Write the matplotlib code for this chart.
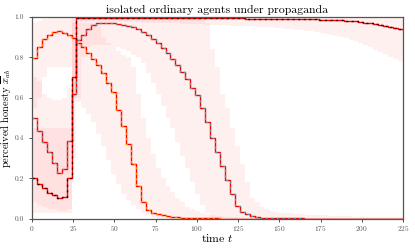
import numpy as np
import matplotlib
matplotlib.use("Agg")
import matplotlib.pyplot as plt

plt.rcParams['font.family'] = ['cmr10', 'DejaVu Serif']
plt.rcParams['mathtext.fontset'] = 'cm'
plt.rcParams['axes.unicode_minus'] = False
plt.rcParams['axes.formatter.use_mathtext'] = True

t = np.arange(0, 226, 3)

series_a = [0.2, 0.172, 0.15, 0.129, 0.115, 0.10, 0.105, 0.2, 0.7, 0.993,
            0.993, 0.993, 0.993, 0.993, 0.993, 0.993, 0.993, 0.993, 0.993, 0.993,
            0.993, 0.993, 0.993, 0.993, 0.993, 0.993, 0.993, 0.993, 0.993, 0.993,
            0.993, 0.993, 0.993, 0.993, 0.993, 0.993, 0.993, 0.993, 0.993, 0.993,
            0.993, 0.993, 0.993, 0.992, 0.992, 0.992, 0.992, 0.992, 0.991, 0.991,
            0.991, 0.990, 0.990, 0.990, 0.989, 0.989, 0.988, 0.988, 0.987, 0.986,
            0.985, 0.984, 0.983, 0.982, 0.980, 0.978, 0.975, 0.972, 0.968, 0.964,
            0.960, 0.955, 0.950, 0.945, 0.940, 0.935]

series_b = [0.5, 0.436, 0.378, 0.329, 0.274, 0.225, 0.246, 0.386, 0.62, 0.885,
            0.91, 0.94, 0.96, 0.97, 0.971, 0.97, 0.968, 0.965, 0.96, 0.955,
            0.948, 0.94, 0.925, 0.91, 0.89, 0.87, 0.845, 0.82, 0.79, 0.76,
            0.725, 0.69, 0.65, 0.615, 0.55, 0.48, 0.40, 0.33, 0.26, 0.19,
            0.12, 0.063, 0.035, 0.022, 0.013, 0.008, 0.005, 0.003, 0.002, 0.002,
            0.001, 0.001, 0.001, 0.001, 0.001, 0.0, 0.0, 0.0, 0.0, 0.0,
            0.0, 0.0, 0.0, 0.0, 0.0, 0.0, 0.0, 0.0, 0.0, 0.0,
            0.0, 0.0, 0.0, 0.0, 0.0, 0.0]

series_c = [0.795, 0.85, 0.89, 0.91, 0.925, 0.928, 0.922, 0.912, 0.895, 0.87,
            0.85, 0.82, 0.79, 0.76, 0.72, 0.673, 0.628, 0.54, 0.46, 0.37,
            0.27, 0.16, 0.08, 0.045, 0.03, 0.022, 0.016, 0.012, 0.009, 0.007,
            0.005, 0.004, 0.003, 0.002, 0.002, 0.001, 0.001, 0.001, 0.0, 0.0,
            0.0, 0.0, 0.0, 0.0, 0.0, 0.0, 0.0, 0.0, 0.0, 0.0,
            0.0, 0.0, 0.0, 0.0, 0.0, 0.0, 0.0, 0.0, 0.0, 0.0,
            0.0, 0.0, 0.0, 0.0, 0.0, 0.0, 0.0, 0.0, 0.0, 0.0,
            0.0, 0.0, 0.0, 0.0, 0.0, 0.0]

band_a_lo = [0.03, 0.03, 0.03, 0.03, 0.03, 0.03, 0.03, 0.03, 0.6, 0.975,
             0.975, 0.975, 0.975, 0.975, 0.975, 0.975, 0.975, 0.975, 0.974, 0.974,
             0.973, 0.973, 0.972, 0.972, 0.971, 0.971, 0.970, 0.970, 0.969, 0.968,
             0.967, 0.966, 0.965, 0.964, 0.963, 0.962, 0.961, 0.960, 0.959, 0.958,
             0.957, 0.956, 0.955, 0.954, 0.953, 0.952, 0.951, 0.950, 0.948, 0.946,
             0.944, 0.942, 0.940, 0.937, 0.934, 0.931, 0.928, 0.925, 0.921, 0.917,
             0.912, 0.907, 0.901, 0.895, 0.888, 0.880, 0.870, 0.860, 0.850, 0.838,
             0.826, 0.814, 0.803, 0.792, 0.782, 0.775]
band_a_hi = [0.45, 0.45, 0.45, 0.45, 0.45, 0.45, 0.45, 0.45, 1.0, 1.0,
             1.0, 1.0, 1.0, 1.0, 1.0, 1.0, 1.0, 1.0, 1.0, 1.0,
             1.0, 1.0, 1.0, 1.0, 1.0, 1.0, 1.0, 1.0, 1.0, 1.0,
             1.0, 1.0, 1.0, 1.0, 1.0, 1.0, 1.0, 1.0, 1.0, 1.0,
             1.0, 1.0, 1.0, 1.0, 1.0, 1.0, 1.0, 1.0, 1.0, 1.0,
             1.0, 1.0, 1.0, 1.0, 1.0, 1.0, 1.0, 1.0, 1.0, 1.0,
             1.0, 1.0, 1.0, 1.0, 1.0, 1.0, 1.0, 1.0, 1.0, 1.0,
             1.0, 1.0, 1.0, 1.0, 1.0, 1.0]

band_b_lo = [0.08, 0.07, 0.06, 0.05, 0.05, 0.04, 0.04, 0.05, 0.3, 0.6,
             0.8, 0.85, 0.86, 0.86, 0.86, 0.86, 0.85, 0.85, 0.84, 0.83,
             0.81, 0.8, 0.77, 0.72, 0.67, 0.62, 0.56, 0.5, 0.45, 0.38,
             0.31, 0.25, 0.18, 0.12, 0.07, 0.03, 0.01, 0.0, 0.0, 0.0,
             0.0, 0.0, 0.0, 0.0, 0.0, 0.0, 0.0, 0.0, 0.0, 0.0,
             0.0, 0.0, 0.0, 0.0, 0.0, 0.0, 0.0, 0.0, 0.0, 0.0,
             0.0, 0.0, 0.0, 0.0, 0.0, 0.0, 0.0, 0.0, 0.0, 0.0,
             0.0, 0.0, 0.0, 0.0, 0.0, 0.0]
band_b_hi = [0.7, 0.68, 0.62, 0.6, 0.59, 0.59, 0.6, 0.65, 1.0, 1.0,
             1.0, 1.0, 1.0, 1.0, 1.0, 1.0, 1.0, 1.0, 1.0, 1.0,
             1.0, 1.0, 1.0, 1.0, 1.0, 1.0, 1.0, 1.0, 1.0, 1.0,
             1.0, 1.0, 1.0, 1.0, 1.0, 0.97, 0.84, 0.75, 0.62, 0.55,
             0.45, 0.36, 0.27, 0.18, 0.1, 0.08, 0.06, 0.05, 0.04, 0.035,
             0.03, 0.028, 0.026, 0.024, 0.022, 0.02, 0.019, 0.018, 0.017, 0.016,
             0.015, 0.014, 0.013, 0.012, 0.011, 0.01, 0.01, 0.01, 0.01, 0.01,
             0.01, 0.01, 0.01, 0.01, 0.01, 0.01]

band_c_lo = [0.55, 0.6, 0.7, 0.75, 0.75, 0.75, 0.75, 0.75, 0.6, 0.58,
             0.55, 0.52, 0.48, 0.42, 0.36, 0.29, 0.22, 0.17, 0.12, 0.09,
             0.07, 0.05, 0.03, 0.02, 0.01, 0.0, 0.0, 0.0, 0.0, 0.0,
             0.0, 0.0, 0.0, 0.0, 0.0, 0.0, 0.0, 0.0, 0.0, 0.0,
             0.0, 0.0, 0.0, 0.0, 0.0, 0.0, 0.0, 0.0, 0.0, 0.0,
             0.0, 0.0, 0.0, 0.0, 0.0, 0.0, 0.0, 0.0, 0.0, 0.0,
             0.0, 0.0, 0.0, 0.0, 0.0, 0.0, 0.0, 0.0, 0.0, 0.0,
             0.0, 0.0, 0.0, 0.0, 0.0, 0.0]
band_c_hi = [0.97, 0.98, 0.99, 1.0, 1.0, 1.0, 1.0, 1.0, 0.97, 0.97,
             0.97, 0.97, 0.97, 0.96, 0.9, 0.87, 0.85, 0.83, 0.81, 0.8,
             0.75, 0.62, 0.5, 0.4, 0.32, 0.25, 0.2, 0.16, 0.13, 0.1,
             0.08, 0.06, 0.05, 0.04, 0.03, 0.025, 0.02, 0.015, 0.012, 0.01,
             0.008, 0.006, 0.005, 0.004, 0.003, 0.002, 0.002, 0.001, 0.0, 0.0,
             0.0, 0.0, 0.0, 0.0, 0.0, 0.0, 0.0, 0.0, 0.0, 0.0,
             0.0, 0.0, 0.0, 0.0, 0.0, 0.0, 0.0, 0.0, 0.0, 0.0,
             0.0, 0.0, 0.0, 0.0, 0.0, 0.0]

fig = plt.figure(figsize=(4.15, 2.49), dpi=100)
ax = fig.add_axes([0.077, 0.122, 0.894, 0.810])

for lo, hi in [(band_a_lo, band_a_hi), (band_b_lo, band_b_hi), (band_c_lo, band_c_hi)]:
    ax.fill_between(t, lo, hi, step='post', color='red', alpha=0.06, linewidth=0)

for s, c in [(series_c, '#ffb000'), (series_b, '#40c0d0'), (series_a, 'black')]:
    ax.step(t, s, where='post', color='red', lw=1.0)
    ax.step(t, s, where='post', color=c, lw=1.0, dashes=(1.5, 2.5), alpha=0.8)

ax.set_xlim(0, 225)
ax.set_ylim(0, 1)
ax.set_xticks([0, 25, 50, 75, 100, 125, 150, 175, 200, 225])
ax.set_yticks([0.0, 0.2, 0.4, 0.6, 0.8, 1.0])
ax.set_yticklabels(['0.0', '0.2', '0.4', '0.6', '0.8', '1.0'])
ax.tick_params(labelsize=5.3, length=2, width=0.6, colors='#333333', labelcolor='#555555')
ax.tick_params(axis='x', pad=2)
ax.tick_params(axis='y', pad=4)
for sp in ax.spines.values():
    sp.set_color('#555555')
    sp.set_linewidth(0.9)
ax.set_title('isolated ordinary agents under propaganda', fontsize=8.5, pad=3)
ax.set_xlabel('time $t$', fontsize=8.5, labelpad=-1)
ax.set_ylabel('perceived honesty $\\overline{x}_{ab}$', fontsize=7.5)
ax.yaxis.set_label_coords(-0.050, 0.5)

fig.savefig('out.png', dpi=100)
